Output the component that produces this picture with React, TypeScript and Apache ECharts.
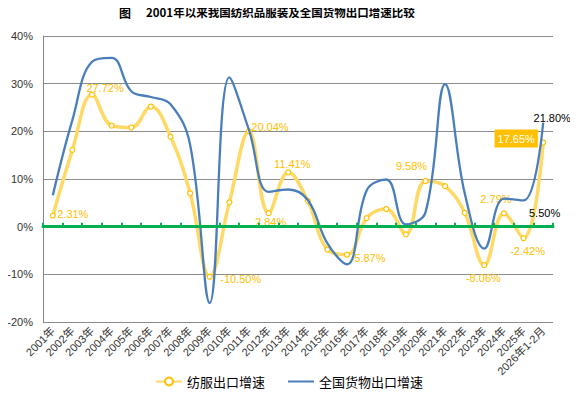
import React, { useEffect, useRef } from "react";
import * as echarts from "echarts";

const categories = [
  "2001年", "2002年", "2003年", "2004年", "2005年", "2006年", "2007年", "2008年", "2009年",
  "2010年", "2011年", "2012年", "2013年", "2014年", "2015年", "2016年", "2017年", "2018年",
  "2019年", "2020年", "2021年", "2022年", "2023年", "2024年", "2025年", "2026年1-2月",
];
const textileGrowth = [
  2.31, 16.1, 27.72, 21.2, 20.8, 25.2, 18.9, 7.0, -10.5, 5.1, 20.04, 2.84, 11.41, 5.4, -4.8,
  -5.87, 1.8, 3.7, -1.6, 9.58, 8.5, 2.9, -8.06, 2.79, -2.42, 17.65,
];
const totalGrowth = [
  6.6, 22.4, 34.6, 35.4, 28.4, 27.2, 25.7, 17.2, -16.0, 31.3, 20.3, 7.3, 7.8, 5.6, -3.5, -7.9,
  7.6, 9.9, 0.5, 3.0, 29.9, 7.0, -4.6, 5.9, 5.5, 21.8,
];
const yTicks = { min: -20, max: 40, interval: 10 };
const seriesNames = ["纺服出口增速", "全国货物出口增速"];

// label placement (offsets from point) for labelled points
const textileLabelOffsets: Record<number, [number, number]> = {
  0: [20, -2],
  2: [13, -7],
  8: [31, 2],
  10: [21, -4],
  11: [2, 9],
  12: [4, -8],
  15: [21, 3],
  19: [-14, -15],
  22: [-1, 13],
  23: [-8, -14],
  24: [4, 13],
  25: [-27, -4],
};
const totalLabelOffsets: Record<number, [number, number]> = {
  24: [21, 13],
  25: [9, -5],
};

const YELLOW_LINE = "#FFD966";
const YELLOW_TEXT = "#FFC000";
const BLUE = "#4A7EBB";
const GREEN = "#00B050";
const FONT = '"Liberation Sans", "Noto Sans CJK SC", sans-serif';

export default function App() {
  const ref = useRef<HTMLDivElement>(null);
  useEffect(() => {
    if (!ref.current) return;
    const chart = echarts.init(ref.current, null, { renderer: "svg" });
    const fmt = (v: number) => v.toFixed(2) + "%";

    const textileData = textileGrowth.map((v, i) => {
      const off = textileLabelOffsets[i];
      if (!off) return v;
      const isBox = i === textileGrowth.length - 1;
      return {
        value: v,
        label: {
          show: true,
          position: "inside",
          offset: off,
          formatter: fmt(v),
          color: isBox ? "#fff" : YELLOW_TEXT,
          fontSize: 11,
          fontFamily: FONT,
          backgroundColor: isBox ? YELLOW_TEXT : "transparent",
          padding: isBox ? [4, 3, 3, 3] : 0,
        },
      };
    });
    const totalData = totalGrowth.map((v, i) => {
      const off = totalLabelOffsets[i];
      if (!off) return v;
      return {
        value: v,
        symbol: "circle",
        symbolSize: 0.5,
        label: {
          show: true,
          position: "inside",
          offset: off,
          formatter: fmt(v),
          color: "#000",
          fontSize: 11,
          fontFamily: FONT,
        },
      };
    });

    chart.setOption({
      animation: false,
      textStyle: { fontFamily: FONT },
      grid: { left: 43, right: 25, top: 36, bottom: 75, containLabel: false },
      graphic: [
        {
          type: "text",
          left: 119,
          top: 6,
          style: { text: "图", font: 'bold 12px "Noto Sans CJK SC"', fill: "#000" },
        },
        {
          type: "text",
          left: 146,
          top: 6,
          style: {
            text: "2001年以来我国纺织品服装及全国货物出口增速比较",
            font: 'bold 11.5px "Noto Sans CJK SC"',
            fill: "#000",
          },
        },
      ],
      legend: {
        bottom: 4,
        left: "center",
        itemGap: 22,
        itemWidth: 26,
        itemHeight: 10,
        data: [seriesNames[0], { name: seriesNames[1], itemStyle: { opacity: 0 } }],
        textStyle: { fontSize: 13, color: "#000", fontFamily: '"Noto Sans CJK SC"' },
      },
      xAxis: [
        {
          type: "category",
          data: categories,
          boundaryGap: true,
          axisLine: { show: false, onZero: false },
          axisTick: { show: false },
          axisLabel: {
            rotate: 45,
            interval: 0,
            fontSize: 11,
            color: "#333",
            margin: 7,
            fontFamily: FONT,
          },
        },
        {
          type: "category",
          data: categories,
          boundaryGap: true,
          position: "bottom",
          z: 5,
          axisLine: { show: true, onZero: true, lineStyle: { color: GREEN, width: 3 } },
          axisTick: {
            show: true,
            inside: true,
            length: 4,
            interval: 0,
            lineStyle: { color: GREEN, width: 2 },
          },
          axisLabel: { show: false },
          splitLine: { show: false },
        },
      ],
      yAxis: {
        type: "value",
        min: yTicks.min,
        max: yTicks.max,
        interval: yTicks.interval,
        axisLine: { show: true, lineStyle: { color: "#868686" } },
        axisTick: { show: false },
        axisLabel: { formatter: "{value}%", fontSize: 11, color: "#333", margin: 10 },
        splitLine: { show: true, lineStyle: { color: "#8C8C8C", width: 1 } },
      },
      series: [
        {
          name: seriesNames[0],
          type: "line",
          data: textileData,
          smooth: 0.4,
          symbol: "circle",
          symbolSize: 5,
          lineStyle: { color: YELLOW_LINE, width: 3.5 },
          itemStyle: { color: "#fff", borderColor: YELLOW_TEXT, borderWidth: 1.2 },
          z: 2,
        },
        {
          name: seriesNames[1],
          type: "line",
          data: totalData,
          smooth: 0.4,
          symbol: "none",
          lineStyle: { color: BLUE, width: 2.3 },
          itemStyle: { color: BLUE },
          z: 3,
        },
      ],
    });
    return () => chart.dispose();
  }, []);
  return <div ref={ref} style={{ width: 578, height: 397, margin: -8 }} />;
}
